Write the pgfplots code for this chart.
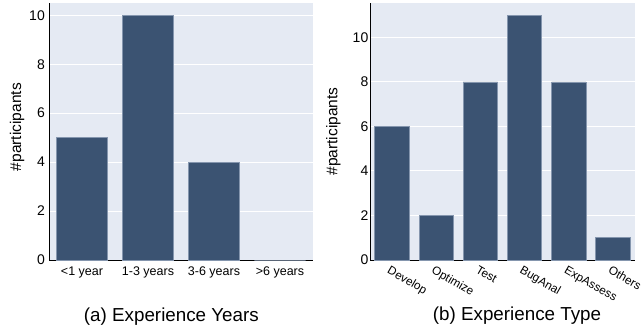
\documentclass[border=0pt]{standalone}
\usepackage{pgfplots}
\pgfplotsset{compat=1.18}
\usepackage{fontspec}
\setmainfont{Liberation Sans}
\definecolor{barfill}{HTML}{3B5372}
\definecolor{baredge}{HTML}{8596AE}
\definecolor{bgc}{HTML}{E5EAF3}
\pgfplotsset{
 mystyle/.style={
  scale only axis, anchor=south west,
  width=264pt, height=257pt,
  axis x line=bottom, axis y line=left,
  axis line style={-, black, line width=1pt},
  axis background/.style={fill=bgc},
  ymajorgrids, grid style={white, line width=1pt},
  major tick length=0pt,
  ymin=0, ytick={0,2,4,6,8,10},
  /pgf/number format/assume math mode=true,
  yticklabel style={font=\fontsize{14}{16}\selectfont},
  xticklabel style={font=\fontsize{12.5}{14}\selectfont},
  ylabel={\#participants},
  ybar, bar width=0.78,
  xtick=data,
 }
}
\begin{document}
\begin{tikzpicture}
\useasboundingbox (0pt,0pt) rectangle (644pt,327pt);
\begin{axis}[mystyle, at={(49pt,67pt)},
  xmin=-0.5, xmax=3.5, ymax=10.5,
  xticklabels={{<1 year},{1-3 years},{3-6 years},{>6 years}},
  xticklabel style={yshift=-3.5pt},
  ylabel style={at={(axis description cs:-0.121,0.517)}, anchor=center, font=\fontsize{15.5}{18}\selectfont},
  yticklabel style={inner sep=4pt},
]
\addplot[fill=barfill, draw=baredge, line width=0.8pt] coordinates {(0,5) (1,10) (2,4) (3,0)};
\end{axis}
\begin{axis}[mystyle, at={(370pt,67pt)}, width=265pt,
  xmin=-0.5, xmax=5.5, ymax=11.55,
  xticklabels={Develop,Optimize,Test,BugAnal,ExpAssess,Others},
  xticklabel style={rotate=-30, anchor=north west, inner sep=0pt, xshift=1.5pt, yshift=-5pt, font=\fontsize{11.8}{14}\selectfont},
  ylabel style={at={(axis description cs:-0.138,0.5)}, anchor=center, font=\fontsize{15.5}{18}\selectfont},
  yticklabel style={inner sep=1.5pt},
]
\addplot[fill=barfill, draw=baredge, line width=0.8pt] coordinates {(0,6) (1,2) (2,8) (3,11) (4,8) (5,1)};
\end{axis}
\node[anchor=base, font=\fontsize{18.8}{22}\selectfont] at (171.4pt,6pt) {(a) Experience Years};
\node[anchor=base, font=\fontsize{18.8}{22}\selectfont] at (517pt,7pt) {(b) Experience Type};
\end{tikzpicture}
\end{document}
